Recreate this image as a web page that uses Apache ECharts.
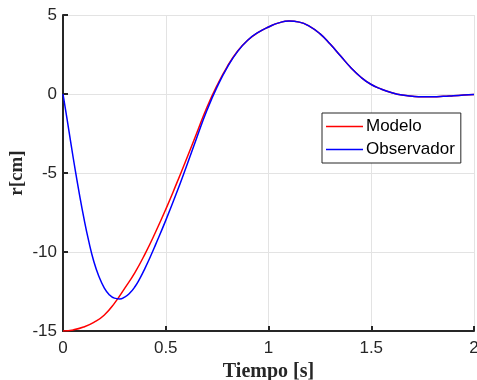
<!DOCTYPE html>
<html>
<head>
<meta charset="utf-8">
<script src="https://cdn.jsdelivr.net/npm/echarts@6/dist/echarts.min.js"></script>
<style>html,body{margin:0;padding:0;background:#fff}#c{width:477px;height:380px}</style>
</head>
<body>
<div id="c"></div>
<script>
var seriesNames = ['Modelo', 'Observador'];
var xTicks = [0, 0.5, 1, 1.5, 2];
var yTicks = [-15, -10, -5, 0, 5];

var modeloT = [0, 0.05, 0.1, 0.15, 0.2, 0.25, 0.3, 0.35, 0.4, 0.45, 0.5, 0.55, 0.6, 0.65, 0.7, 0.75, 0.8, 0.85, 0.9, 0.95, 1.0, 1.05, 1.1, 1.15, 1.2, 1.25, 1.3, 1.35, 1.4, 1.45, 1.5, 1.55, 1.6, 1.65, 1.7, 1.75, 1.8, 1.85, 1.9, 1.95, 2.0];
var modeloV = [-15, -14.93, -14.75, -14.45, -14.0, -13.25, -12.3, -11.3, -10.1, -8.75, -7.3, -5.75, -4.15, -2.5, -0.85, 0.55, 1.75, 2.72, 3.42, 3.9, 4.24, 4.5, 4.62, 4.55, 4.28, 3.82, 3.16, 2.42, 1.68, 1.06, 0.6, 0.3, 0.08, -0.07, -0.14, -0.17, -0.17, -0.15, -0.11, -0.07, -0.03];

var obsT = [0, 0.02, 0.04, 0.06, 0.08, 0.1, 0.125, 0.15, 0.175, 0.2, 0.225, 0.25, 0.275, 0.3, 0.325, 0.35, 0.375, 0.4, 0.425, 0.45, 0.5, 0.55, 0.6, 0.65, 0.7, 0.75, 0.8, 0.85, 0.9, 0.95, 1.0, 1.05, 1.1, 1.15, 1.2, 1.25, 1.3, 1.35, 1.4, 1.45, 1.5, 1.55, 1.6, 1.65, 1.7, 1.75, 1.8, 1.85, 1.9, 1.95, 2.0];
var obsV = [0, -1.6, -3.25, -4.85, -6.35, -7.75, -9.3, -10.6, -11.55, -12.25, -12.7, -12.92, -12.97, -12.85, -12.6, -12.2, -11.65, -11.0, -10.3, -9.55, -8.0, -6.35, -4.6, -2.8, -1.05, 0.45, 1.7, 2.7, 3.42, 3.9, 4.24, 4.5, 4.62, 4.55, 4.28, 3.82, 3.16, 2.42, 1.68, 1.06, 0.6, 0.3, 0.08, -0.07, -0.14, -0.17, -0.17, -0.15, -0.11, -0.07, -0.03];

function pairs(t, v) { return t.map(function (x, i) { return [x, v[i]]; }); }

var chart = echarts.init(document.getElementById('c'), null, { renderer: 'canvas' });
var font = 'Liberation Sans, Arial, sans-serif';
var serif = 'Liberation Serif, Times New Roman, serif';
chart.setOption({
  animation: false,
  backgroundColor: '#fff',
  grid: { left: 63, right: 3, top: 15, bottom: 49, containLabel: false, outerBoundsMode: 'none' },
  legend: {
    orient: 'vertical',
    left: 322, top: 113,
    padding: [5, 6, 5, 4],
    itemGap: 6,
    itemWidth: 37, itemHeight: 1.5,
    icon: 'rect',
    backgroundColor: '#fff',
    borderColor: '#262626', borderWidth: 1,
    textStyle: { fontFamily: font, fontSize: 17, color: '#000', padding: [0, 0, 0, -2] },
    data: seriesNames
  },
  xAxis: {
    type: 'value', min: 0, max: 2, interval: 0.5,
    name: 'Tiempo [s]', nameLocation: 'middle', nameGap: 31, nameMoveOverlap: false,
    nameTextStyle: { fontFamily: serif, fontWeight: 'bold', fontSize: 20, color: '#262626' },
    axisLine: { show: true, onZero: false, lineStyle: { color: '#262626', width: 2 } },
    axisTick: { show: true, inside: true, length: 5, lineStyle: { color: '#262626', width: 2 } },
    axisLabel: { fontFamily: font, fontSize: 17, color: '#262626', margin: 9,
      formatter: function (v) { return xTicks.indexOf(v) >= 0 ? String(v) : ''; } },
    splitLine: { show: true, lineStyle: { color: '#e3e3e3', width: 1 } }
  },
  yAxis: {
    type: 'value', min: -15, max: 5, interval: 5,
    name: 'r[cm]', nameLocation: 'middle', nameGap: 36, nameRotate: 90, nameMoveOverlap: false,
    nameTextStyle: { fontFamily: serif, fontWeight: 'bold', fontSize: 19, color: '#262626' },
    axisLine: { show: true, onZero: false, lineStyle: { color: '#262626', width: 2 } },
    axisTick: { show: true, inside: true, length: 5, lineStyle: { color: '#262626', width: 2 } },
    axisLabel: { fontFamily: font, fontSize: 17, color: '#262626', margin: 6,
      formatter: function (v) { return yTicks.indexOf(v) >= 0 ? String(v) : ''; } },
    splitLine: { show: true, lineStyle: { color: '#e3e3e3', width: 1 } }
  },
  series: [
    { name: seriesNames[0], type: 'line', data: pairs(modeloT, modeloV), symbol: 'none', smooth: 0.5,
      lineStyle: { color: '#ff0000', width: 1.5 }, itemStyle: { color: '#ff0000' } },
    { name: seriesNames[1], type: 'line', data: pairs(obsT, obsV), symbol: 'none', smooth: 0.5,
      lineStyle: { color: '#0000ff', width: 1.5 }, itemStyle: { color: '#0000ff' } }
  ]
});
</script>
</body>
</html>
